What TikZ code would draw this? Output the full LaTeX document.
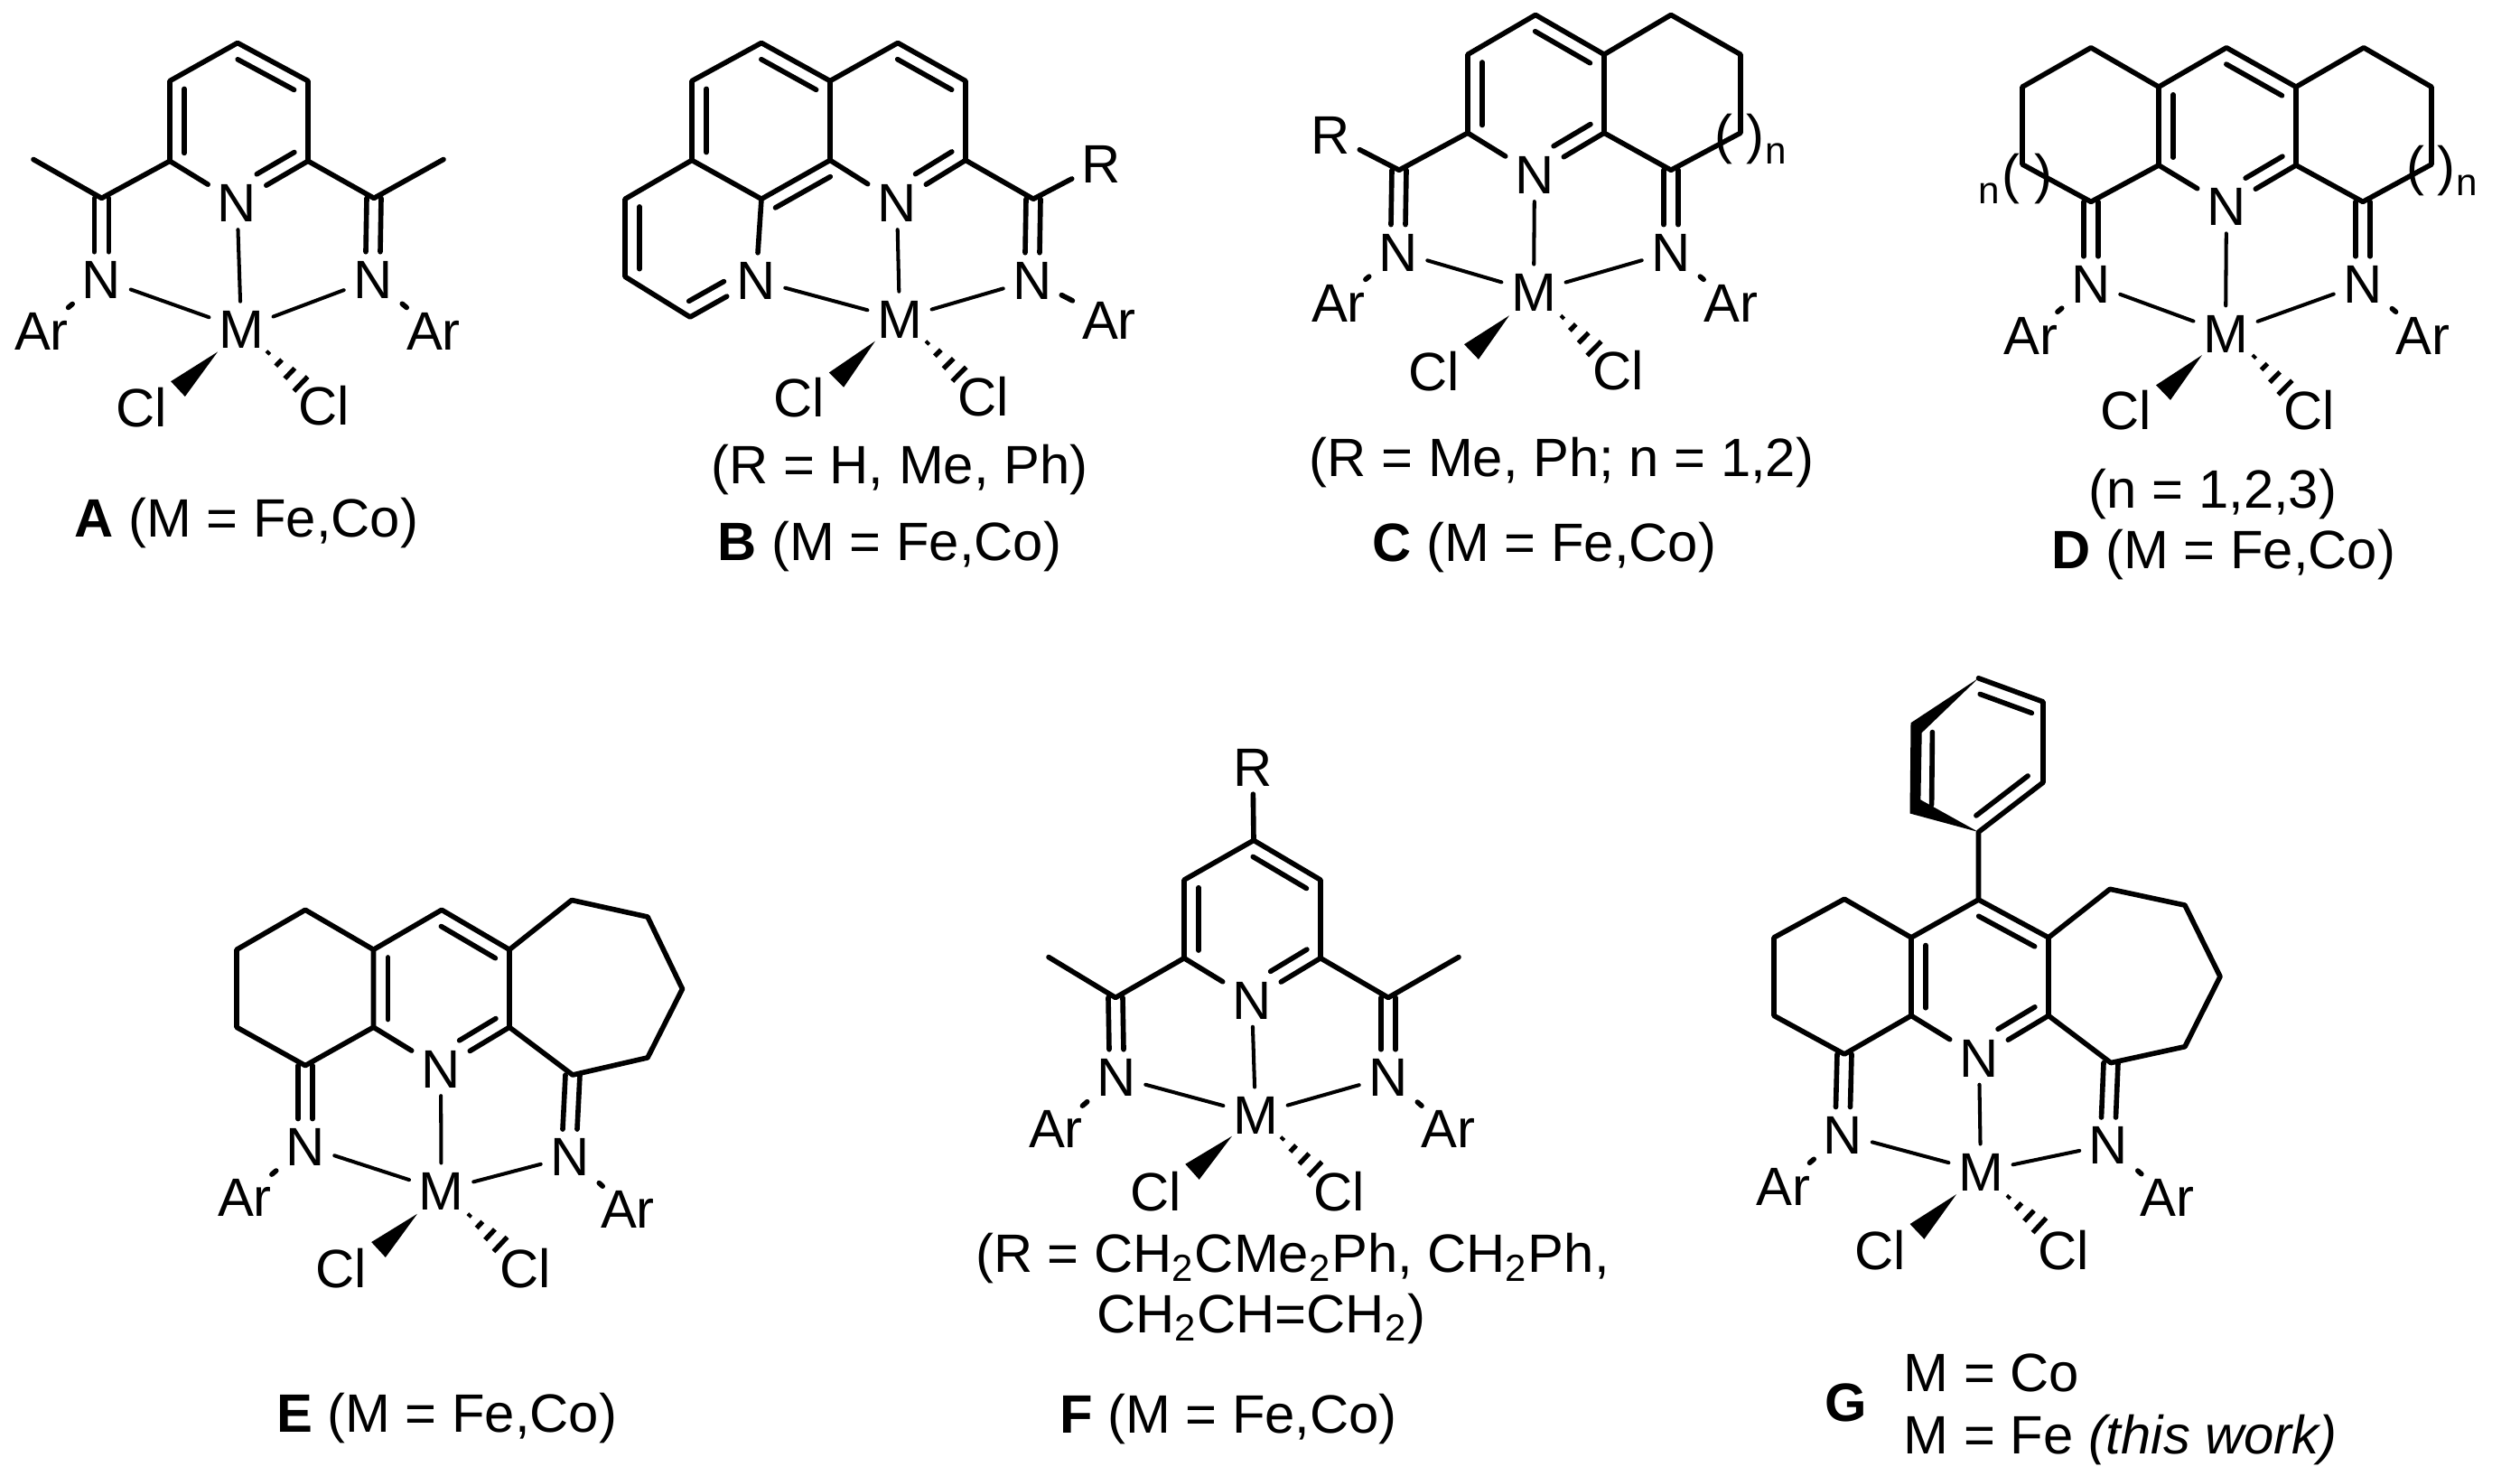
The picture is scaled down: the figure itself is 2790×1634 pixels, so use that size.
\documentclass[tikz,border=0pt]{standalone}
\usepackage{fontspec}
\usepackage{tikz}
\usetikzlibrary{calc}
\setmainfont{Liberation Sans}
\tikzset{
  bond/.style={line width=1.6pt,line cap=round,line join=round},
  metal/.style={line width=1.15pt,line cap=round},
  hash/.style={line width=1.5pt},
  atom/.style={inner xsep=.1cm,inner ysep=.08cm,text depth=0pt,text height=.43cm,font=\fontsize{17pt}{20pt}\selectfont},
  ar/.style={atom,inner ysep=.03cm},
  lab/.style={anchor=base,inner sep=0pt,font=\fontsize{17pt}{20pt}\selectfont},
  paren/.style={inner sep=0pt,font=\fontsize{17pt}{20pt}\selectfont},
  subn/.style={lab,font=\fontsize{12pt}{14pt}\selectfont}
}
\newcommand{\inbond}[3][.16cm]{\draw[bond] ($(#2)!.1!(#3)!#1!90:(#3)$) -- ($(#2)!.9!(#3)!#1!90:(#3)$);}
\newcommand{\inbondn}[3][.16cm]{\draw[bond] ($(#2)!.09!(#3)!#1!90:(#3)$) -- ($(#2)!.62!(#3)!#1!90:(#3)$);}
\newcommand{\imine}[2]{\draw[bond] ([xshift=-.08cm]#1) -- ([xshift=-.08cm]#2.north); \draw[bond] ([xshift=.08cm]#1) -- ([xshift=.08cm]#2.north);}
\newcommand{\wedgebond}[2]{\fill (#1) -- ($(#2)!.115cm!90:(#1)$) -- ($(#2)!.115cm!-90:(#1)$) -- cycle;}
\newcommand{\hashbond}[2]{\foreach \pos in {.05,.36,.68,1}{\pgfmathsetmacro\halflen{.015+.095*\pos}
  \draw[hash] ($(#1)!\pos!(#2)!\halflen*1cm!90:(#1)$) -- ($(#1)!\pos!(#2)!\halflen*1cm!-90:(#1)$);}}
\newcommand{\metalbonds}[1]{\draw[metal](#1Np) -- (#1M); \draw[metal](#1Nl) -- (#1M); \draw[metal](#1Nr) -- (#1M);
  \wedgebond{#1Wa}{#1Wb} \hashbond{#1Ha}{#1Hb}}
\newcommand{\armside}[2]{\imine{#1C#2}{#1N#2} \draw[bond](#1N#2) -- (#1Ar#2);}

\begin{document}
\begin{tikzpicture}[x=.01cm,y=-.01cm]
  \useasboundingbox (0,0) rectangle (2790,1634);

  % A
  \coordinate (aT) at (263,47.5);
  \coordinate (aUL) at (188,89.6);
  \coordinate (aUR) at (341,89.6);
  \coordinate (aLL) at (188,178.3);
  \coordinate (aLR) at (341,178.3);
  \coordinate (aCl) at (112.5,219.4);
  \coordinate (aCr) at (414,219.4);
  \coordinate (aMel) at (37,176.5);
  \coordinate (aMer) at (491,176.5);
  \coordinate (aWa) at (241,389.5);
  \coordinate (aWb) at (197,430.6);
  \coordinate (aHa) at (295,388.6);
  \coordinate (aHb) at (333,425);
  \draw node at (262.5,224)[name=aNp,atom]{N};
  \draw node at (112.5,309)[name=aNl,atom]{N};
  \draw node at (413,309)[name=aNr,atom]{N};
  \draw node at (267,363.9)[name=aM,atom]{M};
  \draw node at (46,365.7)[name=aArl,ar]{Ar};
  \draw node at (480,365.7)[name=aArr,ar]{Ar};
  \draw node at (157,450.7)[name=aCll,atom]{Cl};
  \draw node at (359,448.9)[name=aClr,atom]{Cl};
  \draw[bond](aNp) -- (aLL) -- (aUL) -- (aT) -- (aUR) -- (aLR) -- (aNp);
  \draw[bond](aMel) -- (aCl) -- (aLL);
  \draw[bond](aMer) -- (aCr) -- (aLR);
  \inbond{aUL}{aLL}
  \inbond{aUR}{aT}
  \inbondn[-.16cm]{aLR}{aNp}
  \armside{a}{l}
  \armside{a}{r}
  \metalbonds{a}
  \draw node at (273,594.3)[name=aLab,lab]{\textbf{A} (M = Fe,Co)};

  % B
  \coordinate (bA) at (843,47.5);
  \coordinate (bB) at (766,89.6);
  \coordinate (bC) at (919,89.6);
  \coordinate (bD) at (994,47.5);
  \coordinate (bE) at (1069,89.6);
  \coordinate (bF) at (766,177.4);
  \coordinate (bG) at (919,177.4);
  \coordinate (bH) at (1069,177.4);
  \coordinate (bI) at (843,220.3);
  \coordinate (bJ) at (692,220.3);
  \coordinate (bK) at (692,306.3);
  \coordinate (bL) at (764,351);
  \coordinate (bCr) at (1144,220.3);
  \coordinate (bWa) at (969,377.6);
  \coordinate (bWb) at (926,420.6);
  \coordinate (bHa) at (1025,377.6);
  \coordinate (bHb) at (1062,414.2);
  \draw node at (837,310)[name=bNl,atom]{N};
  \draw node at (993,224)[name=bNp,atom]{N};
  \draw node at (1143,310)[name=bNr,atom]{N};
  \draw node at (996,352.9)[name=bM,atom]{M};
  \draw node at (1219,181)[name=bR,atom]{R};
  \draw node at (1228,353.8)[name=bArr,ar]{Ar};
  \draw node at (885,439.8)[name=bCll,atom]{Cl};
  \draw node at (1089,438.9)[name=bClr,atom]{Cl};
  \draw[bond](bNl) -- (bL) -- (bK) -- (bJ) -- (bF) -- (bB) -- (bA) -- (bC) -- (bD) -- (bE) -- (bH) -- (bNp);
  \draw[bond](bNl) -- (bI) -- (bF);
  \draw[bond](bI) -- (bG) -- (bC);
  \draw[bond](bG) -- (bNp);
  \draw[bond](bH) -- (bCr) -- (bR);
  \inbond{bJ}{bK}
  \inbondn{bL}{bNl}
  \inbond{bB}{bF}
  \inbond{bC}{bA}
  \inbond{bE}{bD}
  \inbond{bG}{bI}
  \inbondn[-.16cm]{bH}{bNp}
  \armside{b}{r}
  \metalbonds{b}
  \draw node at (996,535.8)[name=bNote,lab]{(R = H, Me, Ph)};
  \draw node at (985,620.8)[name=bLab,lab]{\textbf{B} (M = Fe,Co)};

  % C
  \coordinate (cA) at (1700,16.5);
  \coordinate (cB) at (1625,60.3);
  \coordinate (cC) at (1776,60.3);
  \coordinate (cD) at (1850,16.5);
  \coordinate (cE) at (1927,60.3);
  \coordinate (cF) at (1927,147.2);
  \coordinate (cCr) at (1850,188.3);
  \coordinate (cH) at (1776,147.2);
  \coordinate (cI) at (1625,147.2);
  \coordinate (cCl) at (1549,188.3);
  \coordinate (cWa) at (1671,349.3);
  \coordinate (cWb) at (1629,389.5);
  \coordinate (cHa) at (1728,349.3);
  \coordinate (cHb) at (1765,385.8);
  \draw node at (1473,149)[name=cR,atom]{R};
  \draw node at (1699,192.9)[name=cNp,atom]{N};
  \draw node at (1548,278.9)[name=cNl,atom]{N};
  \draw node at (1850,278.9)[name=cNr,atom]{N};
  \draw node at (1698,322.8)[name=cM,atom]{M};
  \draw node at (1482,334.6)[name=cArl,ar]{Ar};
  \draw node at (1916,334.6)[name=cArr,ar]{Ar};
  \draw node at (1588,411.4)[name=cCll,atom]{Cl};
  \draw node at (1792,409.6)[name=cClr,atom]{Cl};
  \draw node at (1908,154.5)[name=cPa,paren]{(};
  \draw node at (1943,154.5)[name=cPb,paren]{)};
  \draw node at (1966,182)[name=cN,subn]{n};
  \draw[bond](cNp) -- (cI) -- (cB) -- (cA) -- (cC) -- (cH) -- (cNp);
  \draw[bond](cC) -- (cD) -- (cE) -- (cF) -- (cCr) -- (cH);
  \draw[bond](cR) -- (cCl) -- (cI);
  \inbond{cB}{cI}
  \inbond{cC}{cA}
  \inbondn[-.16cm]{cH}{cNp}
  \armside{c}{l}
  \armside{c}{r}
  \metalbonds{c}
  \draw node at (1729,527.5)[name=cNote,lab]{(R = Me, Ph; n = 1,2)};
  \draw node at (1710,621.7)[name=cLab,lab]{\textbf{C} (M = Fe,Co)};

  % D
  \coordinate (dT) at (2465,52.8);
  \coordinate (dUL) at (2390,96.2);
  \coordinate (dUR) at (2542,96.2);
  \coordinate (dLL) at (2390,182.9);
  \coordinate (dLR) at (2542,182.9);
  \coordinate (dA) at (2315,52.8);
  \coordinate (dB) at (2239,96.2);
  \coordinate (dC) at (2239,182);
  \coordinate (dCl) at (2315,223.4);
  \coordinate (dE) at (2617,52.8);
  \coordinate (dF) at (2692,96.2);
  \coordinate (dG) at (2692,182);
  \coordinate (dCr) at (2616,223.4);
  \coordinate (dWa) at (2438,393.1);
  \coordinate (dWb) at (2395,434.6);
  \coordinate (dHa) at (2494,393.1);
  \coordinate (dHb) at (2530,429);
  \draw node at (2465,228.2)[name=dNp,atom]{N};
  \draw node at (2315,314)[name=dNl,atom]{N};
  \draw node at (2616,314)[name=dNr,atom]{N};
  \draw node at (2464,368.6)[name=dM,atom]{M};
  \draw node at (2248,370.5)[name=dArl,ar]{Ar};
  \draw node at (2682,370.5)[name=dArr,ar]{Ar};
  \draw node at (2354,454.4)[name=dCll,atom]{Cl};
  \draw node at (2557,453.5)[name=dClr,atom]{Cl};
  \draw node at (2226,198)[name=dPa,paren]{(};
  \draw node at (2262,198)[name=dPb,paren]{)};
  \draw node at (2202.5,225.3)[name=dN,subn]{n};
  \draw node at (2674,189.5)[name=dPc,paren]{(};
  \draw node at (2708,189.5)[name=dPd,paren]{)};
  \draw node at (2731.5,216.8)[name=dNn,subn]{n};
  \draw[bond](dNp) -- (dLL) -- (dUL) -- (dT) -- (dUR) -- (dLR) -- (dNp);
  \draw[bond](dUL) -- (dA) -- (dB) -- (dC) -- (dCl) -- (dLL);
  \draw[bond](dUR) -- (dE) -- (dF) -- (dG) -- (dCr) -- (dLR);
  \inbond{dUL}{dLL}
  \inbond{dUR}{dT}
  \inbondn[-.16cm]{dLR}{dNp}
  \armside{d}{l}
  \armside{d}{r}
  \metalbonds{d}
  \draw node at (2450,562.9)[name=dNote,lab]{(n = 1,2,3)};
  \draw node at (2462,629.8)[name=dLab,lab]{\textbf{D} (M = Fe,Co)};

  % E
  \coordinate (eT) at (489,1007.3);
  \coordinate (eUL) at (413.5,1051.3);
  \coordinate (eUR) at (564,1051.3);
  \coordinate (eLL) at (413.5,1137.2);
  \coordinate (eLR) at (564,1137.2);
  \coordinate (eA) at (338,1007.3);
  \coordinate (eB) at (262,1051.3);
  \coordinate (eC) at (262,1137.2);
  \coordinate (eCl) at (338,1179.6);
  \coordinate (eE) at (633,996.5);
  \coordinate (eF) at (717,1015);
  \coordinate (eG) at (755.5,1094.8);
  \coordinate (eH) at (717,1170.9);
  \coordinate (eCr) at (634,1190);
  \coordinate (eWa) at (462,1343.8);
  \coordinate (eWb) at (419,1383.5);
  \coordinate (eHa) at (518,1343.8);
  \coordinate (eHb) at (554,1377.5);
  \draw node at (488,1182.9)[name=eNp,atom]{N};
  \draw node at (338,1268.8)[name=eNl,atom]{N};
  \draw node at (631,1280.3)[name=eNr,atom]{N};
  \draw node at (488.6,1317.7)[name=eM,atom]{M};
  \draw node at (271,1325.3)[name=eArl,ar]{Ar};
  \draw node at (695,1338.4)[name=eArr,ar]{Ar};
  \draw node at (378,1404.2)[name=eCll,atom]{Cl};
  \draw node at (581.6,1404.2)[name=eClr,atom]{Cl};
  \draw[bond](eNp) -- (eLL) -- (eUL) -- (eT) -- (eUR) -- (eLR) -- (eNp);
  \draw[bond](eUL) -- (eA) -- (eB) -- (eC) -- (eCl) -- (eLL);
  \draw[bond](eUR) -- (eE) -- (eF) -- (eG) -- (eH) -- (eCr) -- (eLR);
  \inbond{eUL}{eLL}
  \inbond{eUR}{eT}
  \inbondn[-.16cm]{eLR}{eNp}
  \armside{e}{l}
  \armside{e}{r}
  \metalbonds{e}
  \draw node at (494.6,1585.2)[name=eLab,lab]{\textbf{E} (M = Fe,Co)};

  % F
  \coordinate (fT) at (1388,930.3);
  \coordinate (fUL) at (1311,974.1);
  \coordinate (fUR) at (1462,974.1);
  \coordinate (fLL) at (1311,1060.7);
  \coordinate (fLR) at (1462,1060.7);
  \coordinate (fCl) at (1235,1104.4);
  \coordinate (fCr) at (1537,1104.4);
  \coordinate (fMel) at (1161,1059.6);
  \coordinate (fMer) at (1615,1059.6);
  \coordinate (fWa) at (1364,1257.7);
  \coordinate (fWb) at (1320,1297.3);
  \coordinate (fHa) at (1418,1258.7);
  \coordinate (fHb) at (1456,1294.2);
  \draw node at (1387,849)[name=fR,atom]{R};
  \draw node at (1386,1106.5)[name=fNp,atom]{N};
  \draw node at (1236,1192)[name=fNl,atom]{N};
  \draw node at (1537,1192)[name=fNr,atom]{N};
  \draw node at (1390,1233.7)[name=fM,atom]{M};
  \draw node at (1169,1249.4)[name=fArl,ar]{Ar};
  \draw node at (1603,1249.4)[name=fArr,ar]{Ar};
  \draw node at (1280,1319.2)[name=fCll,atom]{Cl};
  \draw node at (1483,1319.2)[name=fClr,atom]{Cl};
  \draw[bond](fNp) -- (fLL) -- (fUL) -- (fT) -- (fUR) -- (fLR) -- (fNp);
  \draw[bond](fMel) -- (fCl) -- (fLL);
  \draw[bond](fMer) -- (fCr) -- (fLR);
  \draw[bond](fT) -- (fR);
  \inbond{fUL}{fLL}
  \inbond{fUR}{fT}
  \inbondn[-.16cm]{fLR}{fNp}
  \armside{f}{l}
  \armside{f}{r}
  \metalbonds{f}
  \draw node at (1431,1408.9)[name=fNote,lab]{(R = CH\textsubscript{2}CMe\textsubscript{2}Ph, CH\textsubscript{2}Ph,};
  \draw node at (1396,1475.6)[name=fNoteb,lab]{CH\textsubscript{2}CH=CH\textsubscript{2})};
  \draw node at (1360,1586.1)[name=fLab,lab]{\textbf{F} (M = Fe,Co)};

  % G
  \coordinate (gPt) at (2190.5,750.8);
  \coordinate (gPur) at (2262,776.9);
  \coordinate (gPlr) at (2262,866.2);
  \coordinate (gPb) at (2190.5,921.1);
  \coordinate (gPul) at (2115.5,800.3);
  \coordinate (gPll) at (2114.5,900.5);
  \coordinate (gPui) at (2127.7,811.2);
  \coordinate (gPli) at (2126.4,885.4);
  \coordinate (gT) at (2190.5,996);
  \coordinate (gUL) at (2116,1037.9);
  \coordinate (gUR) at (2268,1037.9);
  \coordinate (gLL) at (2116,1124.4);
  \coordinate (gLR) at (2268,1124.4);
  \coordinate (gA) at (2042,995.3);
  \coordinate (gB) at (1964,1037.9);
  \coordinate (gC) at (1964,1124.4);
  \coordinate (gCl) at (2042,1167);
  \coordinate (gE) at (2336,984.3);
  \coordinate (gF) at (2419,1002.1);
  \coordinate (gG) at (2458,1081.1);
  \coordinate (gH) at (2419,1158.7);
  \coordinate (gCr) at (2337,1176.6);
  \coordinate (gWa) at (2166,1322.2);
  \coordinate (gWb) at (2122.5,1363.4);
  \coordinate (gHa) at (2222,1323.5);
  \coordinate (gHb) at (2258,1356.5);
  \draw node at (2191,1170.5)[name=gNp,atom]{N};
  \draw node at (2040.5,1255.7)[name=gNl,atom]{N};
  \draw node at (2334.5,1267.2)[name=gNr,atom]{N};
  \draw node at (2193,1296.7)[name=gM,atom]{M};
  \draw node at (1974,1312.5)[name=gArl,ar]{Ar};
  \draw node at (2399,1324.9)[name=gArr,ar]{Ar};
  \draw node at (2082,1384)[name=gCll,atom]{Cl};
  \draw node at (2285,1384)[name=gClr,atom]{Cl};
  \fill (gPb) -- (gPll) -- (gPul) -- (gPt) -- (gPui) -- (gPli) -- cycle;
  \draw[bond](gPt) -- (gPur) -- (gPlr) -- (gPb) -- (gT);
  \inbond{gPur}{gPt}
  \inbond{gPb}{gPlr}
  \inbond[.24cm]{gPul}{gPll}
  \draw[bond](gNp) -- (gLL) -- (gUL) -- (gT) -- (gUR) -- (gLR) -- (gNp);
  \draw[bond](gUL) -- (gA) -- (gB) -- (gC) -- (gCl) -- (gLL);
  \draw[bond](gUR) -- (gE) -- (gF) -- (gG) -- (gH) -- (gCr) -- (gLR);
  \inbond{gUL}{gLL}
  \inbond{gUR}{gT}
  \inbondn[-.16cm]{gLR}{gNp}
  \armside{g}{l}
  \armside{g}{r}
  \metalbonds{g}
  \draw node at (2044,1573.5)[name=gLab,lab]{\textbf{G}};
  \draw node at (2107,1540.5)[name=gCo,lab,anchor=base west]{M = Co};
  \draw node at (2107,1609.2)[name=gFe,lab,anchor=base west]{M = Fe \textit{(this work)}};
\end{tikzpicture}
\end{document}
